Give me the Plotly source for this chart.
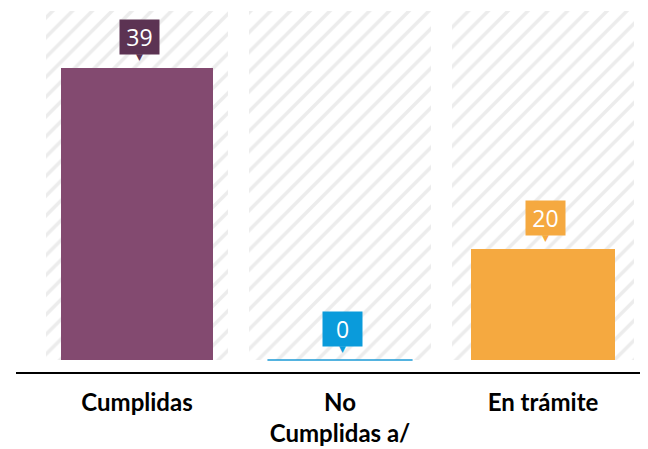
import plotly.graph_objects as go

# ---- data ----
categories = ["Cumplidas", "No<br>Cumplidas a/", "En trámite"]
values = [39, 0, 20]
Y_AXIS_MIN = 8.35      # value axis minimum of the original chart
BACKGROUND_MAX = 45    # hatched background series value

# ---- styles ----
bar_colors = ["#834A70", "#1B9AD6", "#F5A940"]
label_colors = ["#5C3353", "#0A9BDB", "#F5A940"]
bar_widths = [0.745, 0.715, 0.71]

x_idx = list(range(len(categories)))
heights = [max(v, Y_AXIS_MIN) - Y_AXIS_MIN for v in values]
tops = [max(v, Y_AXIS_MIN) for v in values]

fig = go.Figure()

# hatched background columns
fig.add_trace(go.Bar(
    x=x_idx, y=[BACKGROUND_MAX - Y_AXIS_MIN] * len(categories), base=Y_AXIS_MIN,
    width=0.897,
    marker=dict(color="white", line=dict(width=0),
                pattern=dict(shape="/", fgcolor="#D9D9D9", bgcolor="white",
                             size=14, solidity=0.25)),
    hoverinfo="skip", showlegend=False,
))

# value bars
fig.add_trace(go.Bar(
    x=x_idx, y=heights, base=Y_AXIS_MIN, width=bar_widths,
    marker=dict(color=bar_colors, line=dict(width=0)),
    showlegend=False,
))

# bars clipped at the axis minimum drawn as a thin line
for i, v in enumerate(values):
    if v <= Y_AXIS_MIN:
        fig.add_shape(type="line", xref="x", yref="y",
                      x0=i - bar_widths[i] / 2, x1=i + bar_widths[i] / 2,
                      y0=Y_AXIS_MIN, y1=Y_AXIS_MIN,
                      line=dict(color=bar_colors[i], width=1.5))

# callout data labels
for i, v in enumerate(values):
    fig.add_annotation(
        x=i, y=tops[i], xref="x", yref="y", text=str(v), showarrow=False,
        yanchor="bottom", yshift=13, xshift=2,
        width=39, height=34, bgcolor=label_colors[i], borderpad=0,
        font=dict(family="Open Sans", size=23, color="white"),
    )
    fig.add_annotation(
        x=i, y=tops[i], xref="x", yref="y", text="▼", showarrow=False,
        yanchor="bottom", yshift=4, xshift=2,
        font=dict(family="DejaVu Sans", size=9, color=label_colors[i]),
    )

fig.update_layout(
    width=640, height=441,
    margin=dict(l=8, r=0, t=0, b=77),
    paper_bgcolor="white", plot_bgcolor="white",
    barmode="overlay", bargap=0,
    xaxis=dict(
        tickmode="array", tickvals=x_idx, ticktext=categories,
        range=[-0.596, 2.517], showline=True, linecolor="black", linewidth=2,
        showgrid=False, zeroline=False, ticks="",
        tickfont=dict(family="Lato", size=24, color="black", weight="bold"),
        ticklabelstandoff=8,
    ),
    yaxis=dict(range=[7.09, 45.30], visible=False, showgrid=False, zeroline=False),
)

fig.write_html("out.html")
